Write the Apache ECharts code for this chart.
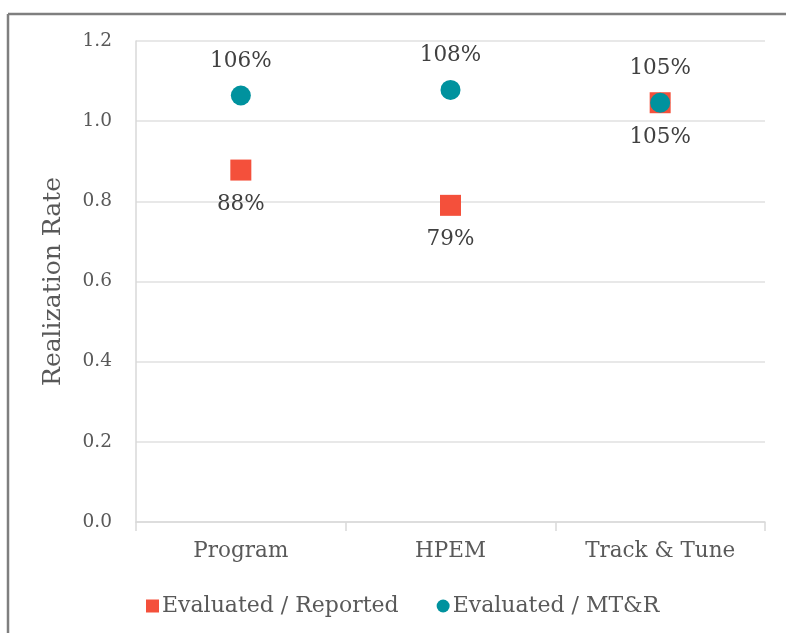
<!DOCTYPE html>
<html>
<head>
<meta charset="utf-8">
<script src="https://cdn.jsdelivr.net/npm/echarts@6/dist/echarts.min.js"></script>
<style>
html,body{margin:0;padding:0;background:#fff;}
#chart{width:786px;height:633px;}
</style>
</head>
<body>
<div id="chart"></div>
<script>
const categories = ['Program', 'HPEM', 'Track & Tune'];
const evalReported = [0.878, 0.79, 1.046];
const evalMTR = [1.064, 1.078, 1.046];
const yTicks = [0, 0.2, 0.4, 0.6, 0.8, 1.0, 1.2];

const FONT = 'DejaVu Serif';
const chart = echarts.init(document.getElementById('chart'), null, {renderer: 'canvas'});
const pct = p => Math.round(p.value * 100) + '%';

chart.setOption({
  backgroundColor: '#ffffff',
  animation: false,
  textStyle: {fontFamily: FONT},
  graphic: [
    {type: 'line', shape: {x1: 8, y1: 14, x2: 786, y2: 14}, style: {stroke: '#7f7f7f', lineWidth: 2.5}},
    {type: 'line', shape: {x1: 8, y1: 14, x2: 8, y2: 633}, style: {stroke: '#7f7f7f', lineWidth: 2.5}}
  ],
  grid: {left: 136, right: 21, top: 41, bottom: 111, containLabel: false},
  legend: {
    left: 141, top: 590,
    itemWidth: 13, itemHeight: 13, itemGap: 38,
    textStyle: {fontFamily: FONT, fontSize: 22, color: '#595959', padding: [0, 0, 0, -2]},
    data: [
      {name: 'Evaluated / Reported', icon: 'rect'},
      {name: 'Evaluated / MT&R', icon: 'circle'}
    ]
  },
  xAxis: {
    type: 'category',
    data: categories,
    boundaryGap: true,
    axisLine: {lineStyle: {color: '#d9d9d9', width: 1.5}},
    axisTick: {show: true, length: 9, lineStyle: {color: '#d9d9d9', width: 1.5}},
    axisLabel: {fontFamily: FONT, fontSize: 21.5, color: '#595959', margin: 18},
    splitLine: {show: false}
  },
  yAxis: {
    type: 'value',
    min: yTicks[0], max: yTicks[yTicks.length - 1], interval: 0.2,
    name: 'Realization Rate',
    nameLocation: 'middle',
    nameGap: 70,
    nameTextStyle: {fontFamily: FONT, fontSize: 25, color: '#595959'},
    axisLine: {show: true, lineStyle: {color: '#d9d9d9', width: 1.5}},
    axisTick: {show: false},
    axisLabel: {fontFamily: FONT, fontSize: 18.5, color: '#595959', margin: 24, formatter: v => v.toFixed(1)},
    splitLine: {show: true, lineStyle: {color: '#e0e0e0', width: 1.5}}
  },
  series: [
    {
      name: 'Evaluated / Reported',
      type: 'scatter',
      symbol: 'rect',
      symbolSize: 21,
      itemStyle: {color: '#F4503B', opacity: 1},
      data: evalReported,
      label: {show: true, position: 'bottom', distance: 13, formatter: pct,
              fontFamily: FONT, fontSize: 21.5, color: '#404040'}
    },
    {
      name: 'Evaluated / MT&R',
      type: 'scatter',
      symbol: 'circle',
      symbolSize: 20,
      itemStyle: {color: '#00929E', opacity: 1},
      data: evalMTR,
      label: {show: true, position: 'top', distance: 13, formatter: pct,
              fontFamily: FONT, fontSize: 21.5, color: '#404040'}
    }
  ]
});
</script>
</body>
</html>
